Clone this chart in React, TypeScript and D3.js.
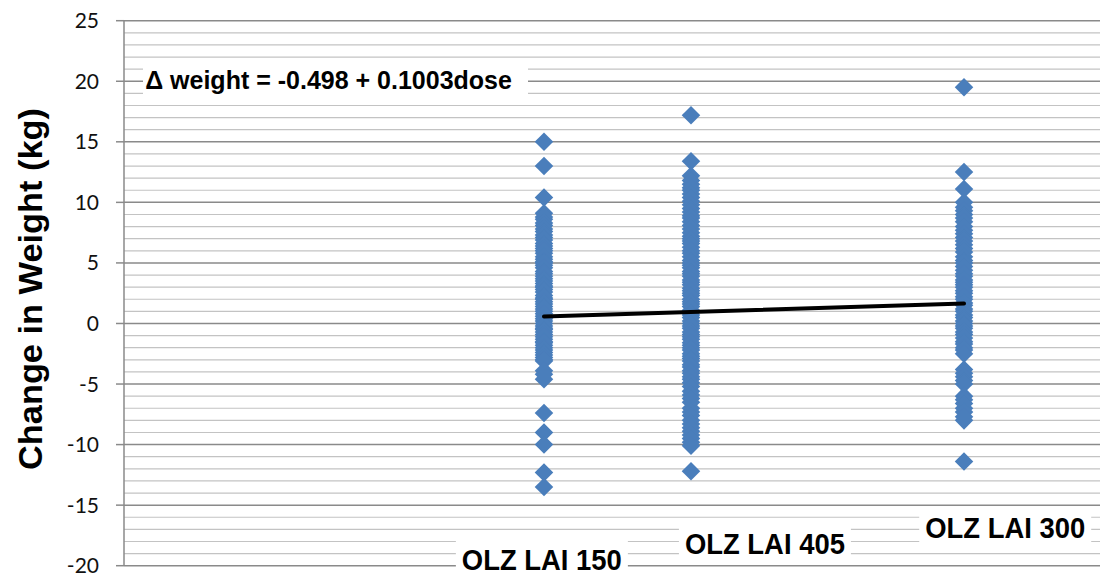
import React from 'react';
import * as d3 from 'd3';

// dose in mg/day for each olanzapine LAI group
const categories = ['OLZ LAI 150', 'OLZ LAI 405', 'OLZ LAI 300'];
const doses = [10.714, 14.464, 21.429];

// change in weight (kg) per patient
const weight150 = [15.0, 13.0, 10.4, 9.1, 8.8, 8.6, 8.3, 8.1, 7.8, 7.6, 7.3, 7.1, 6.9, 6.6, 6.4, 6.2, 6.0,
  5.8, 5.5, 5.3, 5.1, 5.0, 4.8, 4.6, 4.3, 4.1, 3.9, 3.7, 3.5, 3.3, 3.1, 3.0, 2.8, 2.6, 2.3, 2.1, 2.0, 1.8,
  1.6, 1.4, 1.2, 1.0, 0.8, 0.6, 0.4, 0.2, 0.0, -0.2, -0.4, -0.5, -0.7, -0.9, -1.1, -1.3, -1.5, -1.6, -1.8,
  -2.0, -2.2, -2.4, -2.6, -2.8, -3.0, -3.1, -3.9, -4.2, -4.6, -7.4, -9.0, -10.0, -12.3, -13.5];
const weight405 = [17.2, 13.4, 12.2, 11.8, 11.5, 11.2, 11.0, 10.7, 10.4, 10.1, 9.8, 9.5, 9.2, 8.9, 8.7,
  8.4, 8.1, 7.8, 7.5, 7.2, 7.0, 6.8, 6.6, 6.3, 6.0, 5.8, 5.5, 5.2, 5.0, 4.8, 4.6, 4.3, 4.1, 3.9, 3.6, 3.4,
  3.2, 2.9, 2.7, 2.5, 2.3, 2.0, 1.8, 1.6, 1.4, 1.1, 0.9, 0.7, 0.5, 0.2, 0.0, -0.2, -0.4, -0.7, -0.9, -1.1,
  -1.3, -1.6, -1.8, -2.0, -2.2, -2.5, -2.7, -2.9, -3.1, -3.4, -3.6, -3.9, -4.1, -4.4, -4.6, -4.9, -5.2,
  -5.6, -5.9, -6.2, -6.5, -7.0, -7.3, -7.6, -8.0, -8.3, -8.6, -8.9, -9.2, -9.5, -9.8, -10.1, -12.2];
const weight300 = [19.5, 12.5, 11.1, 10.0, 9.6, 9.3, 9.0, 8.7, 8.4, 8.0, 7.7, 7.4, 7.1, 6.8, 6.5, 6.2,
  5.9, 5.5, 5.2, 5.0, 4.7, 4.4, 4.1, 3.9, 3.6, 3.4, 3.2, 3.0, 2.7, 2.5, 2.2, 2.0, 1.7, 1.5, 1.2, 1.0, 0.7,
  0.5, 0.2, 0.0, -0.2, -0.4, -0.7, -0.9, -1.2, -1.5, -1.7, -2.0, -2.2, -2.5, -3.8, -4.1, -4.4, -4.7, -5.0,
  -6.0, -6.3, -6.6, -7.0, -7.3, -7.7, -8.0, -11.4];
const groups = [weight150, weight405, weight300];

// regression: weight = a + b * dose
const intercept = -0.498;
const slope = 0.1003;
const equation = '\u0394 weight = -0.498 + 0.1003dose';

const yTicks = [25, 20, 15, 10, 5, 0, -5, -10, -15, -20];
const yMinor = d3.range(-20, 26, 1);

// label anchors in data units (center x, baseline y)
const labelAnchors = [[10.66, -20.35], [16.35, -19.03], [22.48, -17.7]];

const W = 1100;
const H = 577;

export default function App() {
  const x = d3.scaleLinear().domain([0, 25]).range([124, 1104]);
  const y = d3.scaleLinear().domain([-20, 25]).range([565.7, 20.7]);

  const diamond = d3.symbol(d3.symbolSquare, 172)();
  const fitLine = d3.line<number>()
    .x(d => x(d))
    .y(d => y(intercept + slope * d));

  const points: { dose: number; v: number; key: string }[] = [];
  groups.forEach((g, gi) => g.forEach((v, i) => points.push({ dose: doses[gi], v, key: gi + '-' + i })));

  const labelFont = 'Liberation Sans, Arial, sans-serif';

  return (
    <svg width={W} height={H} style={{ position: 'absolute', left: 0, top: 0, background: '#fff' }}>
      {/* gridlines */}
      {yMinor.map(v => (
        <line key={'g' + v} x1={x(0)} x2={W} y1={y(v)} y2={y(v)}
          stroke={v % 5 === 0 ? '#8a8a8a' : '#c3c3c3'} strokeWidth={v % 5 === 0 ? 1.5 : 1.2} />
      ))}
      {/* y axis */}
      <line x1={x(0)} x2={x(0)} y1={y(25)} y2={y(-20)} stroke="#8a8a8a" strokeWidth={1.5} />
      {yTicks.map(t => (
        <g key={'t' + t}>
          <line x1={x(0) - 8} x2={x(0)} y1={y(t)} y2={y(t)} stroke="#8a8a8a" strokeWidth={1.5} />
          <text x={99} y={y(t)} dy="0.36em" textAnchor="end"
            style={{ fontFamily: 'Lato, "Open Sans", sans-serif', fontSize: 21, fill: '#111' }}>{t}</text>
        </g>
      ))}
      <text transform="translate(42,289) rotate(-90)" textAnchor="middle" textLength={362}
        lengthAdjust="spacingAndGlyphs"
        style={{ fontFamily: labelFont, fontWeight: 'bold', fontSize: 33, fill: '#000' }}>
        Change in Weight (kg)
      </text>

      {/* scatter points */}
      {points.map(p => (
        <path key={p.key} d={diamond ?? ''} fill="#4a7ebb"
          transform={`translate(${x(p.dose)},${y(p.v)}) rotate(45)`} />
      ))}

      {/* regression line */}
      <path d={fitLine([doses[0], doses[2]]) ?? ''} fill="none" stroke="#000" strokeWidth={4} strokeLinecap="round" />

      {/* equation */}
      <rect x={143} y={y(21.8)} width={385} height={y(18.3) - y(21.8)} fill="#fff" />
      <text x={x(0.54)} y={y(19.36)}
        style={{ fontFamily: labelFont, fontWeight: 'bold', fontSize: 25, fill: '#000' }}>{equation}</text>

      {/* category labels */}
      {categories.map((c, i) => {
        const cx = x(labelAnchors[i][0]);
        const by = y(labelAnchors[i][1]);
        return (
          <g key={c}>
            <rect x={cx - 86} y={by - 30} width={172} height={36} fill="#fff" />
            <text x={cx} y={by} textAnchor="middle" textLength={160} lengthAdjust="spacingAndGlyphs"
              style={{ fontFamily: labelFont, fontWeight: 'bold', fontSize: 29, fill: '#000' }}>{c}</text>
          </g>
        );
      })}
    </svg>
  );
}
